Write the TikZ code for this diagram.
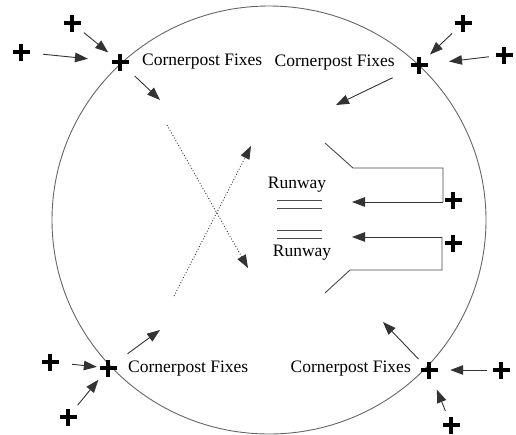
\documentclass[tikz,border=0pt]{standalone}
\usepackage{fontspec}
\setmainfont{Liberation Serif}
\usetikzlibrary{arrows.meta}
\tikzset{
  lbl/.style={inner sep=0pt, font=\fontsize{17.5}{20}\selectfont},
  plusmark/.style={circle, minimum size=30, inner sep=0pt,
    path picture={
      \draw[line width=3.2pt, line cap=butt]
        ([xshift=-8.5pt]path picture bounding box.center) -- ([xshift=8.5pt]path picture bounding box.center)
        ([yshift=-8.5pt]path picture bounding box.center) -- ([yshift=8.5pt]path picture bounding box.center);
    }},
  smallplus/.style={plusmark, minimum size=24},
  arr/.style={draw=black!80, line width=0.9pt, -{Triangle[length=13pt,width=9.5pt]}},
  dotarr/.style={draw=black!80, line width=0.9pt, dotted, -{Triangle[length=13pt,width=9.5pt]}},
  wire/.style={draw=black!70, line width=0.9pt},
  rim/.style={draw=black!60, line width=0.9pt},
}
\begin{document}
\begin{tikzpicture}[x=1pt, y=-1pt]
\useasboundingbox (0,0) rectangle (516,434);
\fill[white] (0,0) rectangle (516,434);

% boundary of the field
\draw[rim] (269,220) ellipse [x radius=217, y radius=214];

% corner fixes and their feeders
\node[plusmark] (m1) at (120,62) {};
\node[plusmark] (o1) at (72,23) {};
\node[plusmark] (o2) at (21,52) {};
\node[lbl, anchor=west] (t1) at (142,62) {Cornerpost Fixes};
\coordinate (e1) at (160,100);

\node[plusmark] (m2) at (419,65) {};
\node[plusmark] (o3) at (463,23) {};
\node[plusmark] (o4) at (504,55) {};
\node[lbl, anchor=east] (t2) at (395,63) {Cornerpost Fixes};
\coordinate (e2) at (336,105);

\node[plusmark] (m3) at (108,368) {};
\node[plusmark] (o5) at (50,362) {};
\node[plusmark] (o6) at (68,417) {};
\node[lbl, anchor=west] (t3) at (128,369) {Cornerpost Fixes};
\coordinate (e3) at (160,330);

\node[plusmark] (m4) at (429,370) {};
\node[plusmark] (o7) at (501,370) {};
\node[plusmark] (o8) at (451,425) {};
\node[lbl, anchor=east] (t4) at (411,369) {Cornerpost Fixes};
\coordinate (e4) at (383,322);

\draw[arr] (o1) -- (m1);
\draw[arr, shorten <=7pt, shorten >=17pt] (o2) -- (m1);
\draw[arr, shorten <=5pt] (m1) -- (e1);

\draw[arr] (o3) -- (m2);
\draw[arr, shorten >=15pt] (o4) -- (m2);
\draw[arr, shorten <=14pt] (m2) -- (e2);

\draw[arr, shorten <=7pt, shorten >=-4pt] (o5) -- (m3);
\draw[arr] (o6) -- (m3);
\draw[arr, shorten <=9pt] (m3) -- (e3);

\draw[arr, shorten <=-1pt, shorten >=6pt] (o7) -- (m4);
\draw[arr, shorten >=6pt] (o8) -- (m4);
\draw[arr] (m4) -- (e4);

% crossing dotted tracks
\coordinate (d1s) at (167,125);
\coordinate (d1e) at (248,268);
\coordinate (d2s) at (174,296);
\coordinate (d2e) at (251,146);
\draw[dotarr] (d1s) -- (d1e);
\draw[dotarr] (d2s) -- (d2e);

% runways
\node[lbl] (r1) at (297,185) {Runway};
\node[lbl] (r2) at (302,253) {Runway};
\draw[wire] (277,200) -- (322,200) (277,208) -- (322,208);
\draw[wire] (277,230) -- (322,230) (277,238) -- (322,238);

% approach paths to the runways
\node[smallplus] (p1) at (453,200) {};
\node[smallplus] (p2) at (453,243) {};
\coordinate (u0) at (325,143);
\coordinate (u1) at (353,168);
\coordinate (u2) at (443,168);
\coordinate (u3) at (443,202);
\coordinate (a1) at (352,202);
\draw[wire] (u0) -- (u1) -- (u2) -- (u3);
\draw[arr] (u3) -- (a1);

\coordinate (v0) at (325,293);
\coordinate (v1) at (350,270);
\coordinate (v2) at (442,270);
\coordinate (v3) at (442,237);
\coordinate (a2) at (352,237);
\draw[wire] (v0) -- (v1) -- (v2) -- (v3);
\draw[arr] (v3) -- (a2);
\end{tikzpicture}
\end{document}
